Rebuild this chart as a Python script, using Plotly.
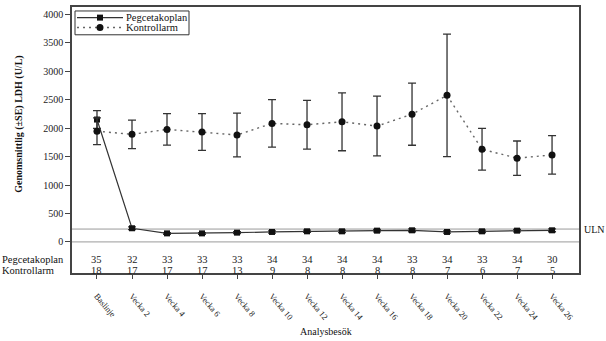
import plotly.graph_objects as go

# Visits
categories = ["Baslinje", "Vecka 2", "Vecka 4", "Vecka 6", "Vecka 8", "Vecka 10",
              "Vecka 12", "Vecka 14", "Vecka 16", "Vecka 18", "Vecka 20",
              "Vecka 22", "Vecka 24", "Vecka 26"]

# Mean LDH (U/L) and standard error per arm
peg_mean = [2150, 240, 150, 150, 163, 175, 186, 186, 198, 204, 175, 186, 198, 204]
peg_se = [155, 25, 15, 15, 18, 20, 20, 22, 22, 25, 20, 22, 22, 25]
ctrl_mean = [1945, 1890, 1977, 1930, 1878, 2082, 2058, 2110, 2035, 2244, 2575, 1628, 1471, 1529]
ctrl_se = [235, 250, 277, 323, 384, 418, 428, 508, 525, 546, 1077, 366, 302, 337]

# Number of patients at each visit
peg_n = [35, 32, 33, 33, 33, 34, 34, 34, 34, 33, 34, 33, 34, 30]
ctrl_n = [18, 17, 17, 17, 13, 9, 8, 8, 8, 8, 7, 6, 7, 5]

uln = 226
y_ticks = [0, 500, 1000, 1500, 2000, 2500, 3000, 3500, 4000]

FONT = "Liberation Serif"
INK = "#333333"

# Plot-area geometry (pixels) used to place the compact legend box
W, H = 606, 341
ML, MR, MT, MB = 72, 27, 5, 68
PW, PH = W - ML - MR, H - MT - MB


def px_x(p):
    return (p - ML) / PW


def px_y(p):
    return (H - MB - p) / PH


fig = go.Figure()

peg_line = dict(color=INK, width=1.2)
ctrl_line = dict(color="#666666", width=1.4, dash="2px,4px")

fig.add_trace(go.Scatter(
    x=categories, y=peg_mean, name="Pegcetakoplan", mode="lines+markers",
    line=peg_line,
    marker=dict(symbol="square", size=6, color="#111111"),
    error_y=dict(type="data", array=peg_se, color=INK, thickness=1.3, width=4),
))
fig.add_trace(go.Scatter(
    x=categories, y=ctrl_mean, name="Kontrollarm", mode="lines+markers",
    line=ctrl_line,
    marker=dict(symbol="circle", size=7, color="#111111"),
    error_y=dict(type="data", array=ctrl_se, color=INK, thickness=1.3, width=4),
))

# Reference lines: zero and upper limit of normal
for yv in (0, uln):
    fig.add_shape(type="line", xref="paper", x0=0, x1=1, yref="y", y0=yv, y1=yv,
                  line=dict(color="#9a9a9a", width=1), layer="below")
fig.add_annotation(text="ULN", xref="paper", x=1.0, xshift=3, xanchor="left",
                   yref="y", y=uln, showarrow=False,
                   font=dict(family=FONT, size=10, color="#111111"))

# At-risk table inside the frame
for cat, a, b in zip(categories, peg_n, ctrl_n):
    fig.add_annotation(text=str(a), x=cat, y=-300, xref="x", yref="y",
                       showarrow=False, font=dict(family=FONT, size=10.5, color="#222222"))
    fig.add_annotation(text=str(b), x=cat, y=-505, xref="x", yref="y",
                       showarrow=False, font=dict(family=FONT, size=10.5, color="#222222"))
for label, yv in (("Pegcetakoplan", -300), ("Kontrollarm", -505)):
    fig.add_annotation(text=label, xref="paper", x=-0.142, xanchor="left",
                       yref="y", y=yv, showarrow=False,
                       font=dict(family=FONT, size=10.5, color="#111111"))

# Compact legend box
fig.add_shape(type="rect", xref="paper", yref="paper",
              x0=px_x(75), x1=px_x(189), y0=px_y(33), y1=px_y(9),
              line=dict(color="#333333", width=1), fillcolor="white")
legend_rows = [
    ("Pegcetakoplan", 15.7, peg_line, "rect", 6),
    ("Kontrollarm", 25.7, ctrl_line, "circle", 7),
]
for name, ry, ln, sym, sz in legend_rows:
    fig.add_shape(type="line", xref="paper", yref="paper",
                  x0=px_x(77), x1=px_x(123), y0=px_y(ry), y1=px_y(ry), line=ln)
    fig.add_shape(type=sym, xref="paper", yref="paper",
                  xsizemode="pixel", ysizemode="pixel",
                  xanchor=px_x(100), yanchor=px_y(ry),
                  x0=-sz / 2, x1=sz / 2, y0=-sz / 2, y1=sz / 2,
                  line=dict(width=0), fillcolor="#111111")
    fig.add_annotation(text=name, xref="paper", yref="paper",
                       x=px_x(124), y=px_y(ry), xanchor="left", yanchor="middle",
                       showarrow=False,
                       font=dict(family=FONT, size=10.5, color="#111111"))

# Axis titles
fig.add_annotation(text="<b>Genomsnittlig (±SE) LDH (U/L)</b>", textangle=-90,
                   xref="paper", x=-0.105, xanchor="center",
                   yref="paper", y=0.56, yanchor="middle", showarrow=False,
                   font=dict(family=FONT, size=10, color="#111111"))
fig.add_annotation(text="Analysbesök", xref="paper", x=0.5, yref="paper", y=-0.22,
                   yanchor="middle", showarrow=False,
                   font=dict(family=FONT, size=10, color="#111111"))

fig.update_xaxes(
    type="category", range=[-0.714, 13.77],
    showline=True, mirror=True, linecolor="#444444", linewidth=1.5,
    ticks="outside", ticklen=4, tickcolor="#444444", tickangle=50,
    ticklabelstandoff=9,
    showgrid=False, zeroline=False,
    tickfont=dict(family=FONT, size=8.5, color="#222222"),
)
fig.update_yaxes(
    range=[-546, 4127], tickvals=y_ticks,
    showline=True, mirror=True, linecolor="#444444", linewidth=1.5,
    ticks="outside", ticklen=5, tickcolor="#444444",
    showgrid=False, zeroline=False,
    tickfont=dict(family=FONT, size=10, color="#222222"),
)

fig.update_layout(
    width=W, height=H,
    margin=dict(l=ML, r=MR, t=MT, b=MB),
    plot_bgcolor="white", paper_bgcolor="white",
    showlegend=False,
    font=dict(family=FONT),
)

fig.write_html("out.html")
